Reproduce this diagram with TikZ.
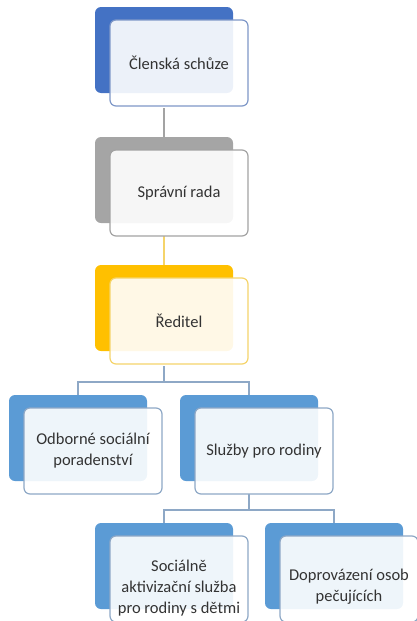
\documentclass[tikz,border=0pt]{standalone}
\usepackage{fontspec}
\setmainfont{Carlito}
\usetikzlibrary{calc}
\usetikzlibrary{positioning}

\definecolor{topblue}{HTML}{4472C4}
\definecolor{topline}{HTML}{7F98C8}
\definecolor{boardgray}{HTML}{A5A5A5}
\definecolor{boardline}{HTML}{A3A3A3}
\definecolor{headgold}{HTML}{FFC000}
\definecolor{headline}{HTML}{F5D46A}
\definecolor{unitblue}{HTML}{5B9BD5}
\definecolor{unitline}{HTML}{8EA8C6}
\definecolor{txt}{HTML}{333333}

\begin{document}
\begin{tikzpicture} [x=1pt,y=-1pt,
  back/.style={rounded corners=6pt, minimum width=138pt, minimum height=86pt, inner sep=0pt, fill=#1},
  front/.style={draw=#1, line width=1.2pt, rounded corners=6pt, fill=white, fill opacity=.9, text opacity=1,
    minimum width=138pt, minimum height=86pt, inner sep=2pt, align=center, text=txt,
    font=\fontsize{16.5}{21}\selectfont},
  words/.style={align=center, text=txt, inner sep=0pt, font=\fontsize{16.5}{21}\selectfont},
  link/.style={draw=#1, line width=1.2pt}]
\useasboundingbox (0,0) rectangle (416,621);
% back boxes
\node[back=topblue] (b1) at (164,50) {};
\node[back=boardgray] (b2) at (164,180) {};
\node[back=headgold] (b3) at (164,308) {};
\node[back=unitblue] (b4) at (78,438) {};
\node[back=unitblue] (b5) at (249,438) {};
\node[back=unitblue] (b6) at (164,566) {};
\node[back=unitblue] (b7) at (334,566) {};
% connectors, behind the front boxes
\coordinate (c1) at (164,108);
\coordinate (c2) at (164,236);
\coordinate (c3) at (164,366);
\coordinate (c4) at (249,494);
\coordinate (j1) at (164,382);
\coordinate (j2) at (249,510);
\draw[link=boardline] (c1) -- (b2.north);
\draw[link=headline] (c2) -- (b3.north);
\draw[link=unitline] (c3) -- (j1) -| (b4.north);
\draw[link=unitline] (j1) -| (b5.north);
\draw[link=unitline] (c4) -- (j2) -| (b6.north);
\draw[link=unitline] (j2) -| (b7.north);
% front boxes
\node[front=topline] (f1) at ($(b1)+(15,13)$) {Členská schůze};
\node[front=boardline] (f2) at ($(b2)+(15,13)$) {Správní rada};
\node[front=headline] (f3) at ($(b3)+(15,13)$) {Ředitel};
\node[front=unitline] (f4) at ($(b4)+(15,13)$) {Odborné sociální\\poradenství};
\node[front=unitline] (f5) at ($(b5)+(15,13)$) {Služby pro rodiny};
\node[front=unitline] (f6) at ($(b6)+(15,13)$) {};
\node[front=unitline] (f7) at ($(b7)+(15,13)$) {};
% bottom row text sits a little low
\node[words] (t6) at ($(f6)+(0,9)$) {Sociálně\\aktivizační služba\\pro rodiny s dětmi};
\node[words] (t7) at ($(f7)+(0,8)$) {Doprovázení osob\\pečujících};
\end{tikzpicture}
\end{document}
